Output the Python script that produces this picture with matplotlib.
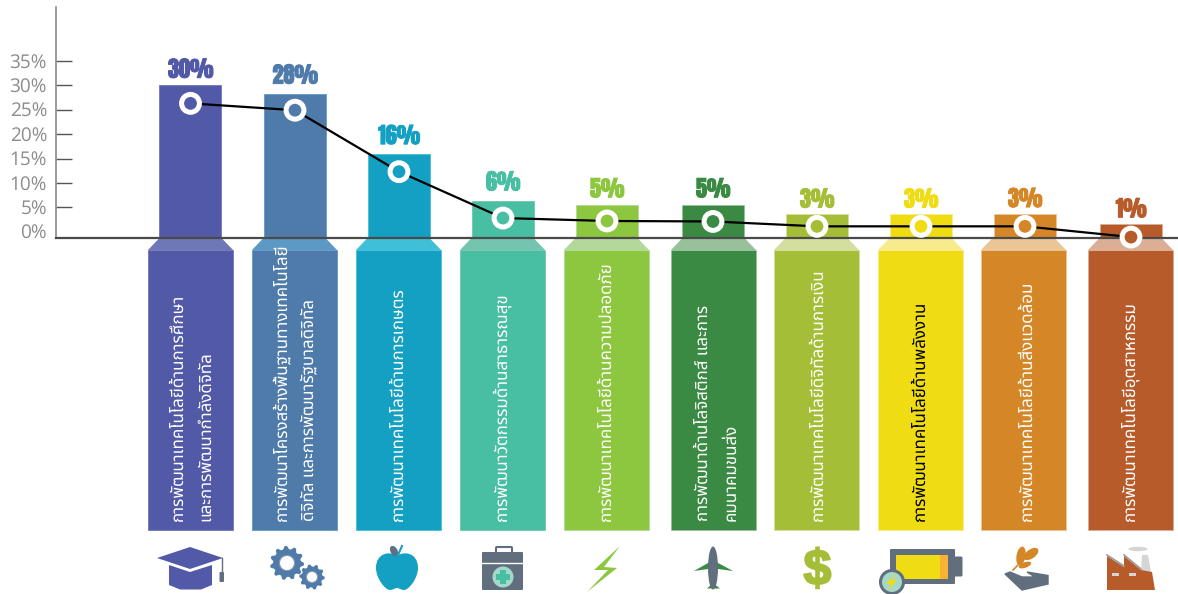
import numpy as np
import matplotlib
matplotlib.use('Agg')
import matplotlib.pyplot as plt
from matplotlib.patches import Polygon, Rectangle, Ellipse, Circle, FancyBboxPatch, PathPatch
from matplotlib.path import Path
from matplotlib.textpath import TextPath
from matplotlib.font_manager import FontProperties
from matplotlib.transforms import Affine2D
import matplotlib.patheffects as pe
import logging
logging.getLogger('matplotlib.font_manager').setLevel(logging.ERROR)

plt.rcParams['text.hinting'] = 'none'
plt.rcParams['text.hinting_factor'] = 1

THAI = ['Noto Sans Thai', 'Sarabun', 'Anuphan', 'DejaVu Sans']
BIG = ['Anton', 'Oswald', 'Liberation Sans Narrow']
TICK = ['Open Sans', 'DejaVu Sans']

# data
value_labels = ['30%', '28%', '16%', '6%', '5%', '5%', '3%', '3%', '3%', '1%']
bar_values = [30, 28.2, 16, 6.3, 5.5, 5.5, 3.6, 3.6, 3.7, 1.6]
line_values = [26.3, 24.9, 12.3, 2.8, 2.2, 2.1, 1.1, 1.1, 1.1, -1.1]
y_ticks = [0, 5, 10, 15, 20, 25, 30, 35]
y_tick_labels = ['0%', '5%', '10%', '15%', '20%', '25%', '30%', '35%']
categories = [
    'การพัฒนาเทคโนโลยีด้านการศึกษา\nและการพัฒนากำลังดิจิทัล',
    'การพัฒนาโครงสร้างพื้นฐานทางเทคโนโลยี\nดิจิทัล และการพัฒนารัฐบาลดิจิทัล',
    'การพัฒนาเทคโนโลยีด้านการเกษตร',
    'การพัฒนาวัตกรรมด้านสาธารณสุข',
    'การพัฒนาเทคโนโลยีด้านความปลอดภัย',
    'การพัฒนาด้านโลจิสติกส์ และการ\nคมนาคมขนส่ง',
    'การพัฒนาเทคโนโลยีดิจิทัลด้านการเงิน',
    'การพัฒนาเทคโนโลยีด้านพลังงาน',
    'การพัฒนาเทคโนโลยีด้านสิ่งแวดล้อม',
    'การพัฒนาเทคโนโลยีอุตสาหกรรม',
]

# layout, in pixels of the picture
bar_x = [190.5, 295, 399, 503, 607, 713, 817, 921, 1025, 1131]
panel_left = [148, 252, 356, 460, 564, 671, 774, 878, 981, 1088]
label_x = [192, 295, 398, 502, 606, 717.5, 818, 920, 1027, 1131]
label_gap = [1.0, 1.6, 1.4, 1.6, 1.0, 1.0, 0.8, 0.8, 0.8, 0.8]
colors = ['#525AA8', '#4F7BAB', '#14A0C3', '#48BEA3', '#8DC63F', '#3B8A43', '#A5BE37', '#F0DC12', '#D58728', '#B85B2A']
light = ['#6E78B8', '#5C99C5', '#40C0D8', '#74C5AF', '#B2D89A', '#98C09B', '#D4DF9F', '#F6EC8E', '#EAC697', '#DDAE96']
text_colors = ['white'] * 7 + ['black'] + ['white'] * 2
GRAY = '#616E7E'
W, H = 1178, 594

fig = plt.figure(figsize=(W / 100, H / 100), dpi=100)

# lower decoration layer works directly in pixels
deco = fig.add_axes([0, 0, 1, 1])
deco.set_xlim(0, W)
deco.set_ylim(H, 0)
deco.axis('off')

for i in range(10):
    x0 = panel_left[i]
    cx = x0 + 42.5
    deco.add_patch(Polygon([(cx - 31, 238), (cx + 31, 238), (x0 + 85, 250), (x0, 250)], fc=light[i], ec='none'))
    deco.add_patch(Rectangle((x0, 250), 85, 280, fc=colors[i], ec=light[i], lw=0.6))
    deco.text(label_x[i], 521, categories[i], rotation=90, ha='center', va='bottom', color=text_colors[i],
              fontsize=12.2, family=THAI, linespacing=1.8, multialignment='left')


def gear(cx, cy, r, teeth, hole):
    ang = np.linspace(0, 2 * np.pi, teeth * 4, endpoint=False)
    rad = np.tile([r, r, r * 0.82, r * 0.82], teeth)
    pts = np.c_[cx + rad * np.cos(ang), cy + rad * np.sin(ang)]
    deco.add_patch(Polygon(pts, fc=colors[1], ec='none'))
    deco.add_patch(Circle((cx, cy), hole + 1.2, fc='#8A97A8', ec='none'))
    deco.add_patch(Circle((cx, cy), hole, fc='white', ec='none'))


# cap
deco.add_patch(Polygon([(169, 565), (190, 572), (212, 565), (212, 585), (201, 589.5), (180, 589.5), (169, 585)], fc=colors[0], ec='none'))
deco.add_patch(Polygon([(157, 558), (190, 547), (223, 558), (190, 569)], fc=colors[0], ec='none'))
deco.plot([222, 222], [558, 574], color=GRAY, lw=1)
deco.add_patch(FancyBboxPatch((220.5, 573), 2.5, 8, boxstyle='round,pad=1', fc=GRAY, ec='none'))
# gears
gear(287, 563, 17, 11, 7)
gear(312, 577, 12.7, 10, 5)
# apple
apple = [(397, 556), (403, 551), (418, 552), (418, 568), (418, 578), (409, 590), (404, 590),
         (401, 590), (399, 588), (397, 588), (395, 588), (393, 590), (390, 590),
         (385, 590), (376, 578), (376, 568), (376, 552), (391, 551), (397, 556)]
codes = [Path.MOVETO] + [Path.CURVE4] * 18
deco.add_patch(PathPatch(Path(apple, codes), fc=colors[2], ec='none'))
deco.add_patch(Ellipse((394, 551), 7, 11, angle=-30, fc=GRAY, ec='none'))
deco.plot([398, 402], [555, 546], color=colors[2], lw=1.5)
# first aid box
deco.add_patch(FancyBboxPatch((497, 548), 14, 7, boxstyle='round,pad=1', fc='none', ec=GRAY, lw=1.5))
deco.add_patch(FancyBboxPatch((483, 553), 39, 36, boxstyle='round,pad=1', fc=GRAY, ec='none'))
deco.plot([482, 523], [563, 563], color='white', lw=1)
deco.add_patch(Circle((503, 577), 10.5, fc='#A5D8C8', ec='none'))
deco.add_patch(Rectangle((500, 570), 6, 14, fc=colors[3], ec='none'))
deco.add_patch(Rectangle((496, 574), 14, 6, fc=colors[3], ec='none'))
# bolt
deco.add_patch(Polygon([(620, 546), (594, 570), (608, 570), (587, 592), (617, 568), (604, 567)], fc=colors[4], ec='none'))
# plane
deco.add_patch(Polygon([(708, 563), (694, 571), (708, 569), (718, 569), (733, 571), (718, 563)], fc=colors[5], ec='none'))
deco.add_patch(Polygon([(713, 583), (707, 588.5), (720, 588.5)], fc=colors[5], ec='none'))
deco.add_patch(Ellipse((713, 568), 10, 43, fc=GRAY, ec='none'))
# dollar
dollar = TextPath((0, 0), '$', size=50, prop=FontProperties(family=['Liberation Sans', 'DejaVu Sans'], weight='bold'))
deco.add_patch(PathPatch(dollar, fc=colors[6], ec=colors[6], lw=1.4,
                         transform=Affine2D().scale(1, -1).translate(803.5, 584.5) + deco.transData))
# battery
deco.add_patch(FancyBboxPatch((955, 558), 6, 17, boxstyle='round,pad=1.5', fc=GRAY, ec='none'))
deco.add_patch(FancyBboxPatch((891, 550), 63, 33, boxstyle='round,pad=1', fc=GRAY, ec='none'))
deco.add_patch(Rectangle((896, 555), 44, 24, fc=colors[7], ec='none'))
deco.add_patch(Rectangle((940, 555), 8, 24, fc='#F9B233', ec='none'))
deco.add_patch(Circle((892, 582), 11.5, fc='#A5D8C8', ec=GRAY, lw=2.2))
deco.add_patch(Polygon([(896, 573), (886, 584), (891, 584), (888, 591), (897, 580), (892, 580)], fc=colors[7], ec='none'))
# leaves on hand
deco.plot([1013, 1034], [570, 549], color=colors[8], lw=1.2)
deco.add_patch(Ellipse((1021, 556), 9, 19, angle=10, fc=colors[8], ec='none'))
deco.add_patch(Ellipse((1031, 554), 9, 17, angle=55, fc=colors[8], ec='none'))
deco.add_patch(Ellipse((1025, 565), 5.5, 13, angle=70, fc=colors[8], ec='none'))
deco.add_patch(Polygon([(1005, 574), (1010, 572), (1022, 577), (1035, 577), (1027, 572), (1048, 575.5), (1048, 584), (1022, 590)], fc=GRAY, ec=GRAY, lw=1))
# factory
deco.add_patch(Polygon([(1142, 555), (1148, 555), (1151, 572), (1141, 572)], fc='#D5D5D5', ec='none'))
deco.add_patch(Polygon([(1107, 590), (1107, 556), (1124, 567), (1124, 556), (1141, 570), (1152, 572), (1155, 590)], fc=colors[9], ec='none'))
deco.plot([1107, 1124], [555, 566], color='#9A9A9A', lw=1.2)
deco.plot([1124, 1141], [555, 569], color='#9A9A9A', lw=1.2)
deco.add_patch(Rectangle((1112, 573), 7, 3, fc='#D5D5D5', ec='none'))
deco.add_patch(Rectangle((1129, 573), 7, 3, fc='#D5D5D5', ec='none'))
deco.add_patch(Ellipse((1138, 549), 19, 4.5, fc='#D5D5D5', ec='none'))

# chart layer, y scale fitted to the tick marks
ax = fig.add_axes([56 / W, (H - 238) / H, (W - 56) / W, (238 - 7) / H])
ax.patch.set_alpha(0)
ax.set_xlim(56, W)
ax.set_ylim(-1.29, 46.05)
ax.bar(bar_x, np.array(bar_values) + 1.29, bottom=-1.29, width=62, color=colors, edgecolor=light, linewidth=0.6, zorder=2)
ax.plot(bar_x, line_values, color='black', lw=1.6, zorder=3, clip_on=False)
ax.scatter(bar_x, line_values, s=165, c=colors, edgecolors='white', linewidths=3.6, zorder=4, clip_on=False)

for i in range(10):
    ax.text(bar_x[i], bar_values[i] + label_gap[i], value_labels[i], ha='center', va='bottom', color=colors[i],
            fontsize=16, family=BIG, path_effects=[pe.withStroke(linewidth=0.7, foreground=colors[i])])

ax.spines['top'].set_visible(False)
ax.spines['right'].set_visible(False)
ax.spines['left'].set_color('#8A8A8A')
ax.spines['left'].set_linewidth(1.2)
ax.spines['bottom'].set_color('#4A4A4A')
ax.spines['bottom'].set_linewidth(1.6)
ax.set_xticks([])
ax.set_yticks(y_ticks[1:])
ax.set_yticklabels([])
ax.tick_params(axis='y', direction='in', length=11.5, width=1, color='#555555')
for v, t in zip(y_ticks, y_tick_labels):
    ax.text(47, v - 0.3, t, ha='right', va='center', color='#8C8C8C', fontsize=13.5, family=TICK)

fig.savefig('out.png', dpi=100)
